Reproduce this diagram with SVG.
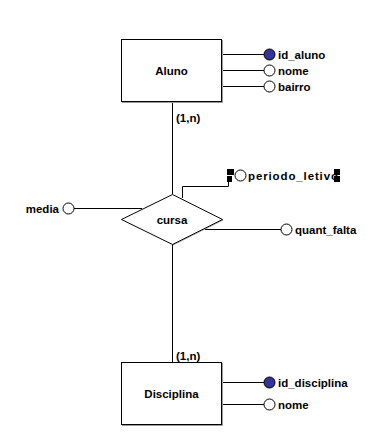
<svg xmlns="http://www.w3.org/2000/svg" width="391" height="447" viewBox="0 0 391 447">
  <defs>
    <style>
      text { font-family: "Liberation Sans", Arial, sans-serif; font-weight: bold; font-size: 11.5px; fill: #000; }
      .mid { text-anchor: middle; }
      .end { text-anchor: end; }
      .entity { fill: #fff; stroke: #000; stroke-width: 1; }
      .shadow { fill: none; stroke: #9a9a9a; stroke-width: 1; }
      .attr { fill: #fff; stroke: #000; stroke-width: 1; }
      .key { fill: #333399; stroke: #000; stroke-width: 1; }
      .link { fill: none; stroke: #000; stroke-width: 1; }
      .handle { fill: #000; }
    </style>
  </defs>
  <rect width="391" height="447" fill="#fff"/>

  <!-- connectors -->
  <g id="connectors">
    <path class="link" d="M172.5 102 V194"/>
    <path class="link" d="M172.5 244 V362"/>
    <path class="link" d="M222 54.5 H264 M222 70.5 H264 M222 86.5 H264"/>
    <path class="link" d="M222 382.5 H264 M222 404.5 H264"/>
    <path class="link" d="M74 208.5 H142"/>
    <path class="link" d="M182.5 198 V186.5 H228.5 V176"/>
    <path class="link" d="M205 229.5 H281"/>
  </g>

  <!-- entity Aluno -->
  <g id="aluno">
    <path class="shadow" d="M222.5 40 V102.5 H122"/>
    <rect class="entity" x="121.5" y="39.5" width="100" height="62"/>
    <text class="mid" x="171.5" y="75">Aluno</text>
  </g>
  <g id="aluno-id_aluno">
    <circle class="key" cx="269.5" cy="54.5" r="5.5"/>
    <text x="278" y="58.5">id_aluno</text>
  </g>
  <g id="aluno-nome">
    <circle class="attr" cx="269.5" cy="70.5" r="5.5"/>
    <text x="278" y="74.5">nome</text>
  </g>
  <g id="aluno-bairro">
    <circle class="attr" cx="269.5" cy="86.5" r="5.5"/>
    <text x="278" y="90.5">bairro</text>
  </g>
  <text x="176" y="122">(1,n)</text>

  <!-- relationship cursa -->
  <g id="cursa">
    <path class="shadow" d="M223 220 L173 245"/>
    <polygon class="entity" points="121.5,219.5 172.5,194.5 222.5,219.5 172.5,244.5"/>
    <text class="mid" x="172" y="223.5">cursa</text>
  </g>
  <g id="cursa-media">
    <circle class="attr" cx="68.5" cy="208.5" r="5.5"/>
    <text class="end" x="59" y="212.5">media</text>
  </g>
  <g id="cursa-periodo_letivo">
    <circle class="attr" cx="240.5" cy="175.5" r="5.5"/>
    <text x="248" y="179.5" textLength="90" lengthAdjust="spacing">periodo_letivo</text>
    <!-- selection handles -->
    <rect class="handle" x="227" y="169" width="7" height="6"/>
    <rect class="handle" x="227" y="176" width="5" height="6"/>
    <rect class="handle" x="334" y="169" width="6" height="6"/>
    <rect class="handle" x="334" y="176" width="6" height="6"/>
  </g>
  <g id="cursa-quant_falta">
    <circle class="attr" cx="286.5" cy="229.5" r="5.5"/>
    <text x="295" y="233.5">quant_falta</text>
  </g>

  <!-- entity Disciplina -->
  <text x="176" y="360">(1,n)</text>
  <g id="disciplina">
    <path class="shadow" d="M222.5 363 V425.5 H122"/>
    <rect class="entity" x="121.5" y="362.5" width="100" height="62"/>
    <text class="mid" x="171.5" y="398">Disciplina</text>
  </g>
  <g id="disciplina-id_disciplina">
    <circle class="key" cx="269.5" cy="382.5" r="5.5"/>
    <text x="278" y="386.5">id_disciplina</text>
  </g>
  <g id="disciplina-nome">
    <circle class="attr" cx="269.5" cy="404.5" r="5.5"/>
    <text x="278" y="408.5">nome</text>
  </g>
</svg>
